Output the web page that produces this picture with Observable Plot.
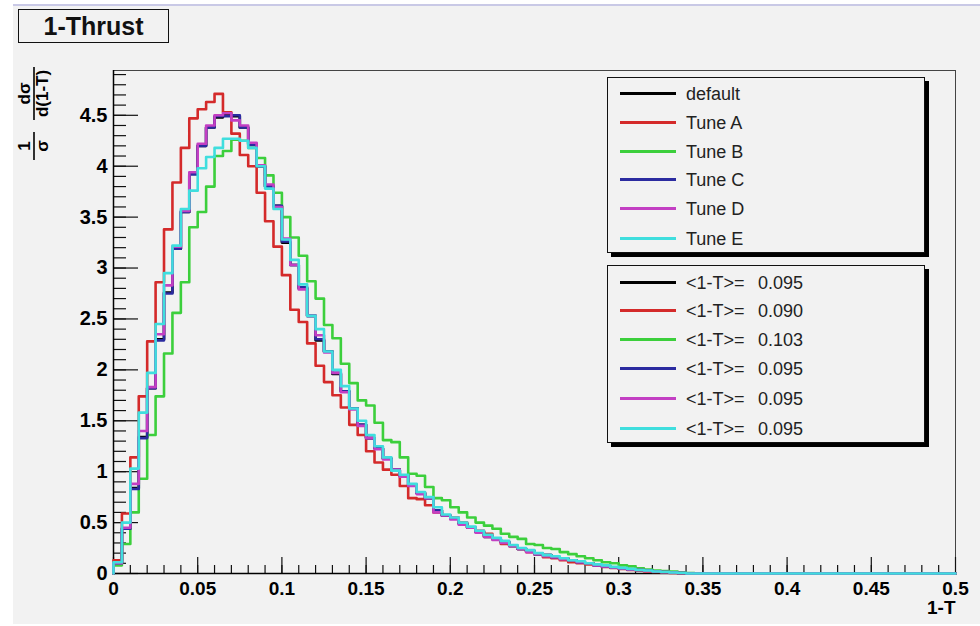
<!DOCTYPE html>
<html><head><meta charset="utf-8">
<script src="https://cdn.jsdelivr.net/npm/d3@7"></script>
<script src="https://cdn.jsdelivr.net/npm/@observablehq/plot@0.6"></script>
<style>
body{margin:0;background:#fff;width:980px;height:626px;overflow:hidden;position:relative;font-family:"Liberation Sans",Arial,sans-serif;}
#bg{position:absolute;left:13px;top:4px;width:967px;height:618px;background:#f2f2f2;border-top:2px solid #c9c9e6;}
#chart{position:absolute;left:0;top:0;}
#title{position:absolute;left:18px;top:9px;width:149px;height:32px;border:1.5px solid #111;background:#f2f2f2;font-weight:bold;font-size:25px;line-height:32px;text-align:center;color:#111;}
.legend{position:absolute;left:607px;width:316px;border:1px solid #111;background:#f2f2f2;box-shadow:4px 4px 0 #000;}
.row{position:absolute;left:0;height:20px;width:100%;}
.row .ln{position:absolute;left:12px;top:8px;width:56px;height:3px;}
.row .tx{position:absolute;left:78px;top:0;font-size:18px;line-height:20px;color:#222;white-space:pre;}
.row .val{position:absolute;left:150px;top:0;font-size:18px;line-height:20px;color:#222;}
</style></head>
<body>
<div id="bg"></div>
<div id="chart"></div>
<div id="title">1-Thrust</div>
<div class="legend" id="leg1" style="top:77px;height:174px;"></div>
<div class="legend" id="leg2" style="top:265px;height:176px;"></div>
<script>
// ---- data (bin width 0.005, 100 bins on [0, 0.5]) ----
const binWidth = 0.005;
const nBins = 100;
const seriesNames = ["default", "Tune A", "Tune B", "Tune C", "Tune D", "Tune E"];
const seriesColors = ["#000000", "#d42a2a", "#3ccf3c", "#2b2ba0", "#c33fc3", "#3fdede"];
const meanValues = ["0.095", "0.090", "0.103", "0.095", "0.095", "0.095"];
const meanLabel = "<1-T>=";

// non-zero bins; remaining bins up to 0.5 are 0
const defaultVals = [0.10,0.44,0.84,1.34,1.82,2.30,2.76,3.19,3.55,3.93,
 4.20,4.38,4.48,4.50,4.49,4.38,4.22,4.00,3.80,3.61,
 3.25,3.03,2.80,2.53,2.29,2.18,1.96,1.79,1.62,1.46,
 1.33,1.23,1.13,1.02,0.96,0.87,0.79,0.74,0.62,0.57,
 0.54,0.49,0.45,0.41,0.36,0.34,0.31,0.27,0.24,0.22,
 0.19,0.18,0.16,0.15,0.13,0.11,0.10,0.08,0.07,0.06,
 0.05,0.04,0.035,0.03,0.02,0.015,0.01,0.005];
const tuneAVals = [0.13,0.59,1.14,1.74,2.28,2.86,3.38,3.84,4.18,4.47,
 4.56,4.63,4.71,4.53,4.32,4.11,4.00,3.74,3.46,3.21,
 2.93,2.59,2.47,2.26,2.04,1.88,1.75,1.63,1.46,1.36,
 1.20,1.09,1.02,0.97,0.86,0.74,0.73,0.67,0.60,0.57,
 0.55,0.50,0.45,0.42,0.39,0.34,0.29,0.27,0.24,0.21,
 0.19,0.16,0.15,0.13,0.11,0.10,0.09,0.08,0.065,0.055,
 0.045,0.035,0.03,0.02,0.015,0.01,0.005];
const tuneBVals = [0.08,0.29,0.60,0.93,1.36,1.74,2.16,2.56,2.86,3.40,
 3.55,3.80,4.10,4.15,4.26,4.25,4.18,4.08,3.91,3.74,
 3.50,3.30,3.12,2.87,2.70,2.44,2.31,2.06,1.87,1.70,
 1.65,1.48,1.31,1.29,1.14,0.98,0.96,0.85,0.74,0.72,
 0.65,0.60,0.55,0.50,0.47,0.44,0.39,0.36,0.34,0.29,
 0.28,0.25,0.24,0.21,0.19,0.17,0.15,0.13,0.11,0.10,
 0.08,0.07,0.05,0.04,0.03,0.025,0.02,0.01,0.005];
const tuneCVals = [0.10,0.44,0.83,1.33,1.82,2.29,2.75,3.19,3.55,3.92,
 4.20,4.38,4.49,4.49,4.50,4.38,4.21,4.00,3.80,3.61,
 3.26,3.03,2.81,2.53,2.30,2.18,1.97,1.79,1.62,1.46,
 1.33,1.23,1.13,1.02,0.96,0.87,0.79,0.74,0.62,0.57,
 0.54,0.49,0.45,0.41,0.37,0.34,0.31,0.27,0.24,0.22,
 0.19,0.18,0.16,0.15,0.13,0.11,0.10,0.08,0.07,0.06,
 0.05,0.04,0.035,0.03,0.02,0.015,0.01,0.005];
const tuneDVals = [0.10,0.45,0.88,1.40,1.83,2.35,2.83,3.21,3.56,3.94,
 4.22,4.40,4.50,4.52,4.45,4.40,4.23,4.01,3.82,3.60,
 3.29,3.03,2.79,2.53,2.34,2.17,1.97,1.78,1.61,1.45,
 1.33,1.22,1.12,1.02,0.95,0.86,0.78,0.74,0.60,0.57,
 0.53,0.48,0.45,0.40,0.36,0.33,0.30,0.27,0.24,0.21,
 0.19,0.17,0.16,0.14,0.13,0.11,0.10,0.08,0.07,0.06,
 0.05,0.04,0.035,0.025,0.02,0.015,0.01,0.005];
const tuneEVals = [0.11,0.50,1.03,1.58,1.97,2.45,2.95,3.22,3.58,3.76,
 3.98,4.09,4.18,4.27,4.27,4.25,4.18,4.00,3.78,3.58,
 3.28,3.08,2.84,2.53,2.40,2.18,2.00,1.84,1.62,1.50,
 1.36,1.25,1.14,1.01,0.97,0.88,0.80,0.75,0.65,0.58,
 0.55,0.50,0.46,0.42,0.38,0.35,0.32,0.28,0.25,0.23,
 0.20,0.18,0.17,0.15,0.13,0.12,0.10,0.09,0.08,0.065,
 0.055,0.045,0.035,0.03,0.02,0.015,0.01,0.005];

const xMajorTicks = [0, 0.05, 0.1, 0.15, 0.2, 0.25, 0.3, 0.35, 0.4, 0.45, 0.5];
const xTickLabels = ["0","0.05","0.1","0.15","0.2","0.25","0.3","0.35","0.4","0.45","0.5"];
const yMajorTicks = [0, 0.5, 1, 1.5, 2, 2.5, 3, 3.5, 4, 4.5];
const yTickLabels = ["0","0.5","1","1.5","2","2.5","3","3.5","4","4.5"];
const xMinorTicks = d3.range(1, 50).map(i => i / 100);
const yMinorTicks = d3.range(1, 50).map(i => i / 10);
const xTitle = "1-T";

// ---- build table ----
const allVals = [defaultVals, tuneAVals, tuneBVals, tuneCVals, tuneDVals, tuneEVals];
const pad = a => a.concat(new Array(nBins - a.length).fill(0));
const rows = [];
seriesNames.forEach((name, s) => {
  const v = pad(allVals[s]);
  rows.push({series: name, x: 0, y: 0});
  v.forEach((val, i) => rows.push({series: name, x: i * binWidth, y: val}));
  rows.push({series: name, x: nBins * binWidth, y: v[nBins - 1]});
});

const W = 980, H = 626, mL = 113, mR = 25, mT = 70, mB = 53;
const fw = W - mL - mR, fh = H - mT - mB;
const font = "'Liberation Sans', Arial, sans-serif";

const plot = Plot.plot({
  width: W, height: H,
  marginLeft: mL, marginRight: mR, marginTop: mT, marginBottom: mB,
  style: {background: "transparent", fontFamily: font, color: "#000"},
  x: {domain: [0, 0.5]},
  y: {domain: [0, 4.94]},
  color: {domain: seriesNames, range: seriesColors},
  marks: [
    Plot.frame({stroke: "#444", strokeWidth: 1}),
    Plot.tickX(xMinorTicks, {x: d => d, insetTop: fh - 8, stroke: "#111", strokeWidth: 1.2}),
    Plot.tickX(xMajorTicks, {x: d => d, insetTop: fh - 16, stroke: "#111", strokeWidth: 1.2}),
    Plot.tickY(yMinorTicks, {y: d => d, insetRight: fw - 13, stroke: "#111", strokeWidth: 1.2}),
    Plot.tickY(yMajorTicks, {y: d => d, insetRight: fw - 25, stroke: "#111", strokeWidth: 1.2}),
    Plot.ruleY([0], {stroke: "#000", strokeWidth: 1.5}),
    Plot.ruleX([0], {stroke: "#000", strokeWidth: 1.5}),
    Plot.line(rows, {x: "x", y: "y", z: "series", stroke: "series", curve: "step-after", strokeWidth: 2.6}),
    Plot.axisX({ticks: xMajorTicks, tickSize: 0, tickPadding: 8, fontSize: 19, fontWeight: "bold",
      tickFormat: d => xTickLabels[xMajorTicks.indexOf(d)], label: null}),
    Plot.axisY({ticks: yMajorTicks, tickSize: 0, tickPadding: 6, fontSize: 20, fontWeight: "bold",
      tickFormat: d => yTickLabels[yMajorTicks.indexOf(d)], label: null}),
    Plot.text([xTitle], {text: d => d, frameAnchor: "bottom-right", dy: 40, fontSize: 19, fontWeight: "bold", textAnchor: "end"})
  ]
});
document.getElementById("chart").appendChild(plot);

// y-axis title: (1/σ) · dσ/d(1-T), rotated
const svg = d3.select(plot);
const g = svg.append("g").attr("transform", "translate(34,0) rotate(-90)")
  .attr("font-family", font).attr("font-weight", "bold").attr("fill", "#000");
g.append("line").attr("x1", -120).attr("x2", -67).attr("y1", 0).attr("y2", 0).attr("stroke", "#000").attr("stroke-width", 1.6);
g.append("text").attr("x", -93.5).attr("y", -4).attr("text-anchor", "middle").attr("font-size", 17).text("dσ");
g.append("text").attr("x", -93.5).attr("y", 14).attr("text-anchor", "middle").attr("font-size", 17).text("d(1-T)");
g.append("line").attr("x1", -160).attr("x2", -132).attr("y1", 0).attr("y2", 0).attr("stroke", "#000").attr("stroke-width", 1.6);
g.append("text").attr("x", -146).attr("y", -4).attr("text-anchor", "middle").attr("font-size", 17).text("1");
g.append("text").attr("x", -146).attr("y", 14).attr("text-anchor", "middle").attr("font-size", 17).text("σ");

// legends
const leg1Rows = [16, 45, 74, 102, 131, 161];
const leg2Rows = [17, 45, 74, 103, 133, 163];
const leg1 = document.getElementById("leg1");
const leg2 = document.getElementById("leg2");
seriesNames.forEach((name, i) => {
  const r = document.createElement("div");
  r.className = "row"; r.style.top = (leg1Rows[i] - 10) + "px";
  r.innerHTML = `<div class="ln" style="background:${seriesColors[i]}"></div><div class="tx"></div>`;
  r.querySelector(".tx").textContent = name;
  leg1.appendChild(r);
  const r2 = document.createElement("div");
  r2.className = "row"; r2.style.top = (leg2Rows[i] - 10) + "px";
  r2.innerHTML = `<div class="ln" style="background:${seriesColors[i]}"></div><div class="tx"></div><div class="val"></div>`;
  r2.querySelector(".tx").textContent = meanLabel;
  r2.querySelector(".val").textContent = meanValues[i];
  leg2.appendChild(r2);
});
</script>
</body></html>
